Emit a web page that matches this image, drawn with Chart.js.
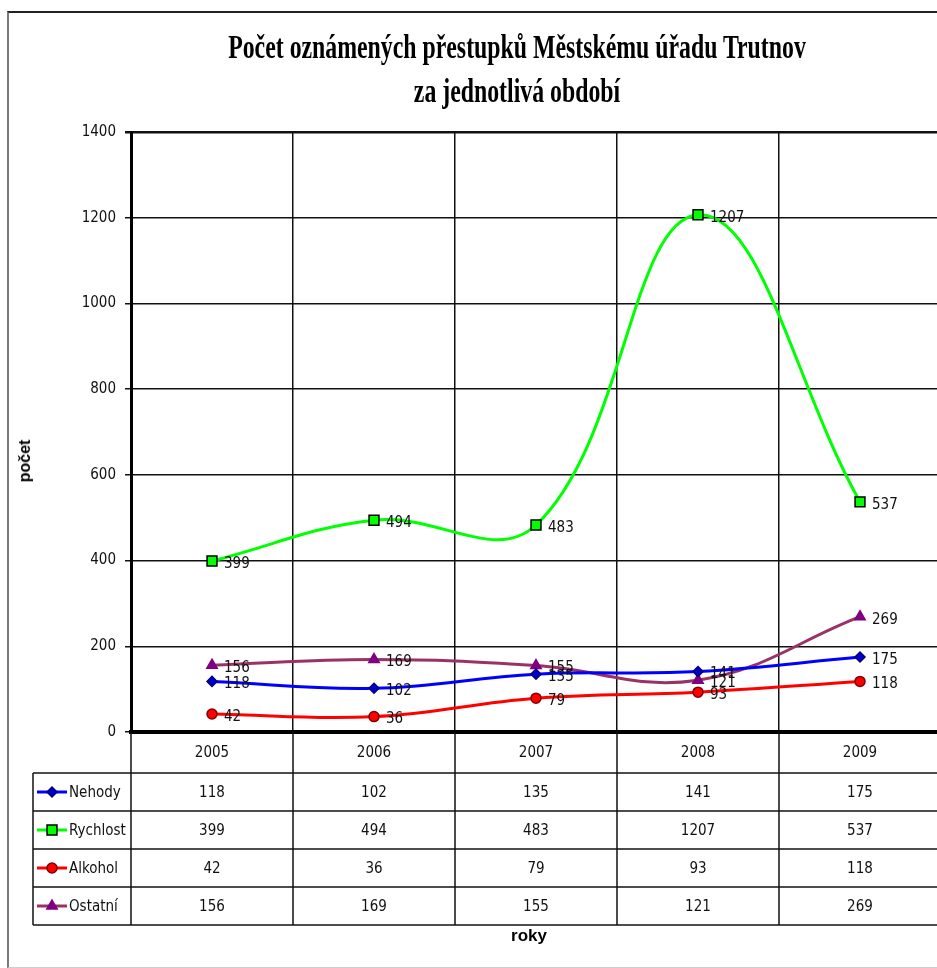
<!DOCTYPE html>
<html>
<head>
<meta charset="utf-8">
<script src="https://cdn.jsdelivr.net/npm/chart.js@4"></script>
<style>
  html, body { margin: 0; padding: 0; background: #fff; }
  #wrap { position: relative; width: 937px; height: 968px; overflow: hidden; background: #fff; }
  #frame { position: absolute; left: 7px; top: 11px; width: 940px; height: 954px; border-left: 2px solid #7a7a7a; border-top: 2px solid #222; border-bottom: 1px solid #ccc; }
  canvas { position: absolute; left: 0; top: 0; }
  .title { position: absolute; left: 0; width: 1034px; text-align: center; font-family: 'Liberation Serif', 'Times New Roman', serif; font-weight: bold; font-size: 34px; color: #000; transform: scaleX(0.70); transform-origin: 517px 0; white-space: nowrap; }
  #ytitle { position: absolute; left: 25px; top: 461px; font: bold 16px 'Liberation Sans', Arial, sans-serif; transform: translate(-50%, -50%) rotate(-90deg); }
  #xtitle { position: absolute; left: 529px; top: 936px; font: bold 17px 'Liberation Sans Narrow', 'Liberation Sans', Arial, sans-serif; transform: translate(-50%, -50%); }
</style>
</head>
<body>
<div id="wrap">
  <div id="frame"></div>
  <canvas id="chart" width="950" height="968" style="width:950px;height:968px"></canvas>
  <div class="title" style="top:28px">Počet oznámených přestupků Městskému úřadu Trutnov</div>
  <div class="title" style="top:72px">za jednotlivá období</div>
  <div id="ytitle">počet</div>
  <div id="xtitle">roky</div>
</div>
<script>
// Data
const years = ['2005', '2006', '2007', '2008', '2009'];
const nehody = [118, 102, 135, 141, 175];
const rychlost = [399, 494, 483, 1207, 537];
const alkohol = [42, 36, 79, 93, 118];
const ostatni = [156, 169, 155, 121, 269];
const yTicks = [0, 200, 400, 600, 800, 1000, 1200, 1400];

const NARROW = "'Liberation Sans Narrow', 'Arial Narrow', 'DejaVu Sans Condensed', sans-serif";

// value labels right of each point
const valueLabels = {
    id: 'valueLabels',
    afterDatasetsDraw(chart) {
        const ctx = chart.ctx;
        ctx.save();
        ctx.font = '15px ' + NARROW;
        ctx.fillStyle = '#111';
        ctx.textAlign = 'left';
        ctx.textBaseline = 'middle';
        chart.data.datasets.forEach((ds, i) => {
            chart.getDatasetMeta(i).data.forEach((pt, j) => {
                ctx.fillText(ds.data[j], pt.x + 12, pt.y + 3);
            });
        });
        ctx.restore();
    }
};

// data table under the plot (Excel style)
const dataTable = {
    id: 'dataTable',
    afterDraw(chart) {
        const ctx = chart.ctx;
        const area = chart.chartArea;
        const xs = chart.scales.x;
        const top = area.bottom;
        const rowTop = 773, rowH = 38;
        const bottom = rowTop + rowH * chart.data.datasets.length;
        const legLeft = 33;
        const half = (xs.getPixelForValue(1) - xs.getPixelForValue(0)) / 2;

        ctx.save();
        ctx.strokeStyle = '#111';
        ctx.lineWidth = 1.5;
        // horizontal rules
        for (let r = 0; r <= chart.data.datasets.length; r++) {
            const y = rowTop + r * rowH;
            ctx.beginPath();
            ctx.moveTo(legLeft, y);
            ctx.lineTo(area.right + 10, y);
            ctx.stroke();
        }
        // vertical rules
        ctx.beginPath();
        ctx.moveTo(legLeft, rowTop);
        ctx.lineTo(legLeft, bottom);
        ctx.stroke();
        for (let i = 0; i <= years.length; i++) {
            const x = xs.getPixelForValue(i) - half;
            ctx.beginPath();
            ctx.moveTo(x, top);
            ctx.lineTo(x, bottom);
            ctx.stroke();
        }

        ctx.font = '15px ' + NARROW;
        ctx.fillStyle = '#111';
        ctx.textBaseline = 'middle';
        ctx.textAlign = 'center';
        years.forEach((yr, i) => ctx.fillText(yr, xs.getPixelForValue(i), (top + rowTop) / 2 + 1));

        chart.data.datasets.forEach((ds, r) => {
            const cy = rowTop + r * rowH + rowH / 2 + 1;
            ctx.textAlign = 'center';
            ds.data.forEach((v, i) => ctx.fillText(v, xs.getPixelForValue(i), cy));
            // legend key
            ctx.strokeStyle = ds.borderColor;
            ctx.lineWidth = 3;
            ctx.beginPath();
            ctx.moveTo(37, cy - 1);
            ctx.lineTo(67, cy - 1);
            ctx.stroke();
            ctx.fillStyle = ds.pointBackgroundColor;
            ctx.strokeStyle = ds.pointBorderColor;
            ctx.lineWidth = 1.5;
            Chart.helpers.drawPoint(ctx, { pointStyle: ds.pointStyle, radius: ds.pointRadius, borderWidth: 1.5, rotation: 0 }, 52, cy - 1);
            ctx.fillStyle = '#111';
            ctx.textAlign = 'left';
            ctx.fillText(ds.label, 69, cy);
        });
        ctx.restore();
    }
};

new Chart(document.getElementById('chart'), {
    type: 'line',
    data: {
        labels: years,
        datasets: [
            { label: 'Nehody', data: nehody, borderColor: '#0000FF', pointStyle: 'rectRot', pointRadius: 5,
              pointBackgroundColor: '#0000CC', pointBorderColor: '#000080' },
            { label: 'Rychlost', data: rychlost, borderColor: '#00FF00', pointStyle: 'rect', pointRadius: 7,
              pointBackgroundColor: '#00FF00', pointBorderColor: '#000000' },
            { label: 'Alkohol', data: alkohol, borderColor: '#FF0000', pointStyle: 'circle', pointRadius: 5,
              pointBackgroundColor: '#FF0000', pointBorderColor: '#800000' },
            { label: 'Ostatní', data: ostatni, borderColor: '#993366', pointStyle: 'triangle', pointRadius: 6,
              pointBackgroundColor: '#800080', pointBorderColor: '#800080' }
        ]
    },
    options: {
        responsive: false,
        animation: false,
        layout: { padding: { left: 0, right: 9, top: 132, bottom: 0 } },
        elements: {
            line: { borderWidth: 3, tension: 0.4, fill: false },
            point: { borderWidth: 1.5 }
        },
        plugins: {
            legend: { display: false },
            title: { display: false },
            tooltip: { enabled: false }
        },
        scales: {
            x: {
                offset: true,
                grid: { offset: true, color: '#111', lineWidth: 1.5, drawTicks: false },
                border: { color: '#000', width: 4 },
                ticks: { display: false },
                afterFit(scale) { scale.height = 236; }
            },
            y: {
                min: 0,
                max: 1400,
                afterBuildTicks(scale) { scale.ticks = yTicks.map(v => ({ value: v })); },
                grid: {
                    color: '#111',
                    lineWidth: c => (c.tick && c.tick.value === 1400 ? 2.5 : 1.5),
                    tickLength: 6,
                    tickColor: '#111'
                },
                border: { color: '#000', width: 3 },
                ticks: {
                    font: { family: NARROW, size: 15 },
                    color: '#111',
                    padding: 9,
                    callback: v => String(v)
                },
                afterFit(scale) { scale.width = 131; }
            }
        }
    },
    plugins: [valueLabels, dataTable]
});
</script>
</body>
</html>
